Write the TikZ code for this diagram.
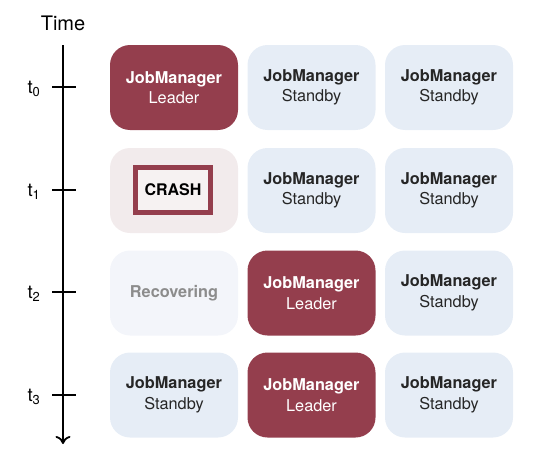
\documentclass[tikz,border=0pt]{standalone}
\usepackage{fontspec}
\setmainfont{TeX Gyre Heros}
\usetikzlibrary{arrows.meta}
\definecolor{leaderred}{HTML}{943E4D}
\definecolor{standbyblue}{HTML}{E6EDF6}
\definecolor{crashpink}{HTML}{F2EBEC}
\definecolor{crashfill}{HTML}{F6F2F2}
\definecolor{recoverpale}{HTML}{F3F5FA}
\definecolor{recovertext}{HTML}{8C8C8C}

\begin{document}
\begin{tikzpicture}[x=1pt,y=1pt]
\tikzstyle{every node}+=[inner sep=0pt]
\tikzstyle{jm}=[rounded corners=20pt, minimum width=128pt, minimum height=85pt, align=center, font=\fontsize{16.3}{20.5}\selectfont]
\tikzstyle{leader}=[jm, fill=leaderred, text=white]
\tikzstyle{standby}=[jm, fill=standbyblue, text=black!85]
\tikzstyle{tick}=[line width=1.8pt]
\tikzstyle{tlabel}=[font=\fontsize{18.5}{20}\selectfont]
\useasboundingbox (0,0) rectangle (539,-466);
% time axis
\node [font=\fontsize{20}{22}\selectfont] (time) at (63,-23) {Time};
\coordinate (top) at (63,-45);
\coordinate (bot) at (63,-444);
\draw [tick, -{To[length=8pt,width=15pt]}] (top) -- (bot);
\coordinate (t0) at (63,-87);
\coordinate (t1) at (63,-190);
\coordinate (t2) at (63,-292);
\coordinate (t3) at (63,-395);
\draw [tick] ([xshift=-11pt]t0) -- ([xshift=13pt]t0);
\draw [tick] ([xshift=-11pt]t1) -- ([xshift=13pt]t1);
\draw [tick] ([xshift=-11pt]t2) -- ([xshift=13pt]t2);
\draw [tick] ([xshift=-11pt]t3) -- ([xshift=13pt]t3);
\node [tlabel] (lt0) at (34,-89) {t\textsubscript{0}};
\node [tlabel] (lt1) at (34,-192) {t\textsubscript{1}};
\node [tlabel] (lt2) at (34,-294) {t\textsubscript{2}};
\node [tlabel] (lt3) at (34,-397) {t\textsubscript{3}};
% t0
\node [leader] (a0) at (174,-87.5) {\textbf{JobManager}\\Leader};
\node [standby] (b0) at (311.5,-87.5) {\textbf{JobManager}\\Standby};
\node [standby] (c0) at (449,-87.5) {\textbf{JobManager}\\Standby};
% t1
\node [jm, fill=crashpink] (a1) at (174,-190.5) {};
\node [draw=leaderred, line width=5pt, fill=crashfill, minimum width=75pt, minimum height=45pt, font=\fontsize{16}{20}\selectfont\bfseries] (crash) at (173,-190) {CRASH};
\node [standby] (b1) at (311.5,-190.5) {\textbf{JobManager}\\Standby};
\node [standby] (c1) at (449,-190.5) {\textbf{JobManager}\\Standby};
% t2
\node [jm, fill=recoverpale, text=recovertext] (a2) at (174,-293) {\textbf{Recovering}};
\node [leader] (b2) at (311.5,-293) {\textbf{JobManager}\\Leader};
\node [standby] (c2) at (449,-293) {\textbf{JobManager}\\Standby};
% t3
\node [standby] (a3) at (174,-395) {\textbf{JobManager}\\Standby};
\node [leader] (b3) at (311.5,-395) {\textbf{JobManager}\\Leader};
\node [standby] (c3) at (449,-395) {\textbf{JobManager}\\Standby};
\end{tikzpicture}
\end{document}
